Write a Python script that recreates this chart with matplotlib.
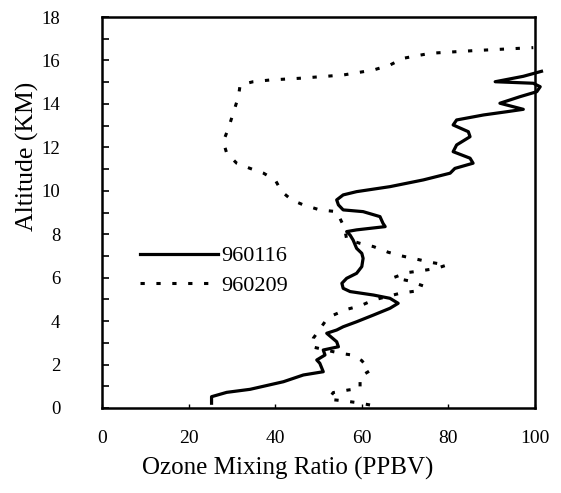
import matplotlib
matplotlib.use("Agg")
import matplotlib.pyplot as plt
from matplotlib.ticker import MultipleLocator

plt.rcParams['font.family'] = ['Liberation Serif', 'DejaVu Serif']

# 960116 (solid)
solid_x = [25.3, 25.3, 28.8, 34.2, 41.9, 46.5, 51.1, 50.3, 49.6, 51.5, 51.1, 54.6, 54.2, 51.9,
           54.2, 55.7, 58.8, 62.7, 66.5, 68.4, 66.5, 62.7, 57.3, 55.7, 55.4, 56.5, 58.8, 60.0,
           60.3, 60.0, 58.8, 58.0, 57.3, 56.5, 58.8, 65.4, 64.9, 64.2, 60.3, 55.7, 54.6, 54.2,
           55.7, 58.8, 66.5, 74.2, 80.4, 81.5, 85.7, 85.0, 81.1, 81.9, 85.0, 84.6, 81.1, 81.9,
           88.1, 93.5, 97.3, 91.9, 96.5, 100.4, 101.2, 99.6, 90.8, 97.3, 101.5]
solid_y = [0.22, 0.52, 0.72, 0.86, 1.21, 1.52, 1.67, 2.06, 2.21, 2.44, 2.67, 2.82, 3.05, 3.44,
           3.59, 3.74, 3.97, 4.28, 4.59, 4.82, 5.05, 5.20, 5.36, 5.51, 5.74, 5.97, 6.20, 6.51,
           6.89, 7.12, 7.35, 7.73, 7.96, 8.12, 8.20, 8.35, 8.50, 8.81, 9.04, 9.12, 9.35, 9.58,
           9.81, 9.96, 10.19, 10.50, 10.81, 11.03, 11.27, 11.50, 11.80, 12.11, 12.49, 12.72, 13.03, 13.26,
           13.49, 13.64, 13.75, 14.03, 14.33, 14.56, 14.79, 14.95, 15.02, 15.27, 15.50]

# 960209 (dotted)
dotted_x = [61.9, 58.8, 55.4, 52.3, 53.4, 56.9, 59.6, 59.6, 61.9, 60.0, 58.0, 55.0, 48.4, 48.8,
            51.5, 53.0, 56.5, 59.6, 62.7, 68.8, 72.7, 74.2, 70.7, 67.3, 70.4, 73.8, 77.3, 79.6,
            75.8, 72.7, 69.2, 66.1, 62.7, 59.6, 56.5, 56.0, 54.2, 50.3, 46.5, 43.8, 41.5, 40.0,
            37.3, 34.2, 31.1, 28.8, 28.0, 29.2, 30.3, 31.5, 31.9, 34.9, 38.8, 45.7, 55.7, 62.7,
            66.5, 69.6, 75.8, 85.7, 99.6]
dotted_y = [0.14, 0.25, 0.34, 0.40, 0.71, 0.83, 0.90, 1.44, 1.72, 2.18, 2.43, 2.52, 2.82, 3.21,
            3.97, 4.24, 4.54, 4.70, 4.97, 5.28, 5.39, 5.62, 5.86, 6.00, 6.23, 6.32, 6.43, 6.58,
            6.71, 6.85, 7.00, 7.17, 7.43, 7.58, 7.77, 8.30, 9.04, 9.12, 9.35, 9.58, 9.96, 10.50,
            10.81, 11.03, 11.27, 11.73, 12.26, 12.88, 13.57, 14.33, 14.87, 15.02, 15.10, 15.18, 15.33, 15.56,
            15.79, 16.10, 16.33, 16.45, 16.59]

labels = ["960116", "960209"]
x_ticks = [0, 20, 40, 60, 80, 100]
y_ticks = [0, 2, 4, 6, 8, 10, 12, 14, 16, 18]

W, H = 561, 493
fig = plt.figure(figsize=(W / 100, H / 100), dpi=100)
ax = fig.add_axes([102 / W, 1 - 408 / H, (535 - 102) / W, (408 - 17) / H])

ax.plot(solid_x, solid_y, color='black', lw=2.3, label=labels[0], clip_on=False,
        solid_joinstyle='round')
ax.plot(dotted_x, dotted_y, color='black', lw=2.2, linestyle=(0, (1.4, 3.8)),
        label=labels[1], clip_on=False)

ax.set_xlim(0, 100)
ax.set_ylim(0, 18)
ax.set_xticks(x_ticks)
ax.set_yticks(y_ticks)
ax.yaxis.set_minor_locator(MultipleLocator(1))
ax.tick_params(axis='y', which='both', direction='in', length=5, width=1.2, labelsize=13.5, pad=30)
ax.tick_params(axis='x', which='both', direction='in', length=3, width=1.0, labelsize=14, pad=16)
for s in ax.spines.values():
    s.set_linewidth(1.8)

fig.text(288 / W, 1 - 468 / H, "Ozone Mixing Ratio (PPBV)", ha='center', va='center', fontsize=18)
fig.text(27 / W, 1 - 156 / H, "Altitude (KM)", ha='center', va='center', rotation=90, fontsize=18.5)

leg = ax.legend(loc='upper left', bbox_to_anchor=(0.088, 0.415), frameon=False, fontsize=16,
                handlelength=3.5, handletextpad=0.15, labelspacing=0.4,
                borderpad=0, borderaxespad=0)

fig.savefig("out.png", dpi=100)
